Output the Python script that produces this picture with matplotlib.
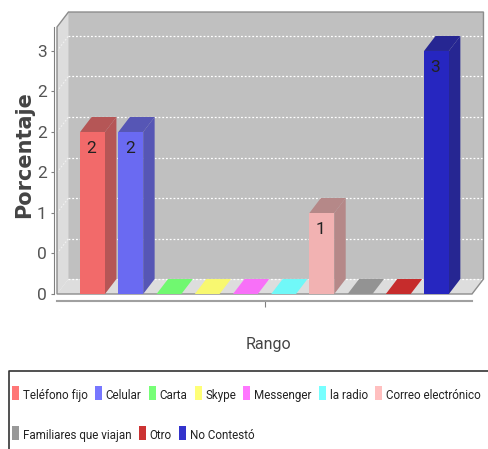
import matplotlib
matplotlib.use("Agg")
import matplotlib.pyplot as plt
from matplotlib.patches import Polygon, Rectangle
from matplotlib.lines import Line2D
from matplotlib.transforms import Affine2D
from matplotlib.colors import to_rgb

# ---------------- data ----------------
series_names = ["Teléfono fijo", "Celular", "Carta", "Skype", "Messenger",
                "la radio", "Correo electrónico", "Familiares que viajan",
                "Otro", "No Contestó"]
values = [2, 2, 0, 0, 0, 0, 1, 0, 0, 3]
series_colors = ["#FF5555", "#5555FF", "#55FF55", "#FFFF55", "#FF55FF",
                 "#55FFFF", "#FFAFAF", "#808080", "#C00000", "#0000C0"]
y_tick_values = [0, 0.5, 1, 1.5, 2, 2.5, 3]
y_tick_labels = ["0", "0", "1", "2", "2", "2", "3"]
category_name = "Rango"
value_axis_label = "Porcentaje"
legend_rows = [7, 3]

NARROW = ["Liberation Sans Narrow", "Roboto", "DejaVu Sans"]

W, H, DPI = 488, 449, 100
fig = plt.figure(figsize=(W / DPI, H / DPI), dpi=DPI)
fig.patch.set_facecolor("white")
ax = fig.add_axes([57 / W, (H - 294) / H, 415 / W, 267 / H])
ax.set_xlim(-0.93, 9.93)
ax.set_ylim(0, 3.296)
ax.patch.set_visible(False)

DX = 0.30    # 3D depth in category units
DY = 0.185   # 3D depth in value units
BW = 0.65
xmin, xmax = ax.get_xlim()
ymin, ymax = ax.get_ylim()

BACK = "#C0C0C0"
WALL = "#DDDDDD"


def blend(c, bg, a=0.8):
    bg = to_rgb(bg)
    return tuple(a * ci + (1 - a) * bi for ci, bi in zip(c, bg))


def darker(c):
    return tuple(int(v * 255 * 0.7) / 255 for v in c)


def poly(pts, fc, ec="none", lw=0, z=1):
    p = Polygon(pts, closed=True, facecolor=fc, edgecolor=ec, linewidth=lw,
                zorder=z, clip_on=False)
    ax.add_patch(p)
    return p


# walls
poly([(xmin + DX, ymin + DY), (xmax + DX, ymin + DY), (xmax + DX, ymax + DY),
      (xmin + DX, ymax + DY)], BACK, z=0.5)
poly([(xmin, ymin), (xmin + DX, ymin + DY), (xmin + DX, ymax + DY), (xmin, ymax)],
     WALL, z=0.6)
poly([(xmin, ymin), (xmax, ymin), (xmax + DX, ymin + DY), (xmin + DX, ymin + DY)],
     WALL, z=0.6)

# gridlines
for v in y_tick_values:
    ax.plot([xmin + DX, xmax + DX], [v + DY, v + DY], color="white",
            ls=(0, (1.5, 1.5)), lw=0.9, zorder=0.7, clip_on=False)
    if v > 0:
        ax.plot([xmin, xmin + DX], [v, v + DY], color="white", alpha=0.6,
                ls=(0, (1.5, 1.5)), lw=0.8, zorder=0.7, clip_on=False)

# outline
poly([(xmin, ymin), (xmin, ymax), (xmin + DX, ymax + DY), (xmax + DX, ymax + DY),
      (xmax + DX, ymin + DY), (xmax, ymin)], "none", ec="#8C8C8C", lw=1.0, z=0.8)

# bars
positions = list(range(len(values)))
front_colors = []
for i, (v, c) in enumerate(zip(values, series_colors)):
    base = to_rgb(c)
    x0, x1 = i - BW / 2, i + BW / 2
    if v > 0:
        dark = blend(darker(base), BACK)
        poly([(x1, 0), (x1 + DX, DY), (x1 + DX, v + DY), (x1, v)], dark, z=2)
        poly([(x0, v), (x1, v), (x1 + DX, v + DY), (x0 + DX, v + DY)], dark, z=2)
    else:
        poly([(x0, 0), (x1, 0), (x1 + DX, DY), (x0 + DX, DY)], blend(base, WALL), z=2)
    front_colors.append(blend(base, BACK))

ax.bar(positions, values, width=BW, color=front_colors, zorder=2.1, linewidth=0)
for i, v in enumerate(values):
    if v > 0:
        ax.annotate(f"{v:g}", (i, v), xytext=(-1, -9), textcoords="offset pixels",
                    ha="center", va="top", fontsize=12.5, family=NARROW,
                    color="#222222", zorder=3)

# axes styling
for s in ("top", "right"):
    ax.spines[s].set_visible(False)
ax.spines["left"].set_position(("outward", 3.5 * 72 / DPI))
ax.spines["left"].set_color("#808080")
ax.spines["left"].set_linewidth(0.8)
ax.spines["bottom"].set_position(("outward", 7 * 72 / DPI))
ax.spines["bottom"].set_color("#A0A0A0")
ax.spines["bottom"].set_linewidth(1.5)

ax.set_yticks(y_tick_values)
ax.set_yticklabels(y_tick_labels, family=NARROW, fontsize=12.5, color="#555555")
ax.tick_params(axis="y", length=2.5, width=0.8, color="#808080", pad=2.5)
ax.set_xticks([(xmin + xmax) / 2])
ax.set_xticklabels([""])
ax.tick_params(axis="x", length=4, width=0.8, color="#808080")

ax.set_ylabel(value_axis_label, family="DejaVu Sans", fontweight="bold",
              fontsize=15, color="#444444")
ax.yaxis.label.set_verticalalignment("center")
ax.yaxis.set_label_coords((24 - 57) / 415, (294 - 154.5) / 267)
ax.set_xlabel(category_name, family=NARROW, fontsize=11.5, color="#444444")
ax.xaxis.label.set_verticalalignment("center")
ax.xaxis.set_label_coords((268 - 57) / 415, -(345 - 294) / 267)

# legend (flow layout, pixel coordinates from top-left)
px = Affine2D().scale(1 / W, -1 / H).translate(0, 1) + fig.transFigure
fig.add_artist(Line2D([9, 9, W + 5], [H + 5, 371, 371], transform=px,
                      color="#333333", lw=1.2))
renderer = fig.canvas.get_renderer()

SQ_W, SQ_GAP, ITEM_GAP = 7, 4, 7
LEG_LEFT, LEG_RIGHT = 12, 482

# fit the legend font so the first row ends where the reference's does
probe_size = 10.0
probe_widths = []
for name in series_names[:legend_rows[0]]:
    t = fig.text(0, 0, name, family=NARROW, fontsize=probe_size)
    probe_widths.append(t.get_window_extent(renderer).width)
    t.remove()
fixed = legend_rows[0] * (SQ_W + SQ_GAP) + (legend_rows[0] - 1) * ITEM_GAP
leg_size = probe_size * (LEG_RIGHT - LEG_LEFT - fixed) / sum(probe_widths)
leg_size = min(leg_size, 10.0)

idx = 0
row_y = [393, 433]
for r, n in enumerate(legend_rows):
    x = LEG_LEFT
    yc = row_y[r]
    for k in range(n):
        name = series_names[idx]
        fig.add_artist(Rectangle((x, yc - 7), SQ_W, 14, transform=px,
                                 facecolor=series_colors[idx], edgecolor="none",
                                 alpha=0.8))
        t = fig.text(x + SQ_W + SQ_GAP, yc + 1, name, transform=px, ha="left",
                     va="center_baseline", family=NARROW, fontsize=leg_size,
                     color="#222222")
        wpx = t.get_window_extent(renderer).width
        x += SQ_W + SQ_GAP + wpx + ITEM_GAP
        idx += 1

fig.savefig("out.png", dpi=DPI)
